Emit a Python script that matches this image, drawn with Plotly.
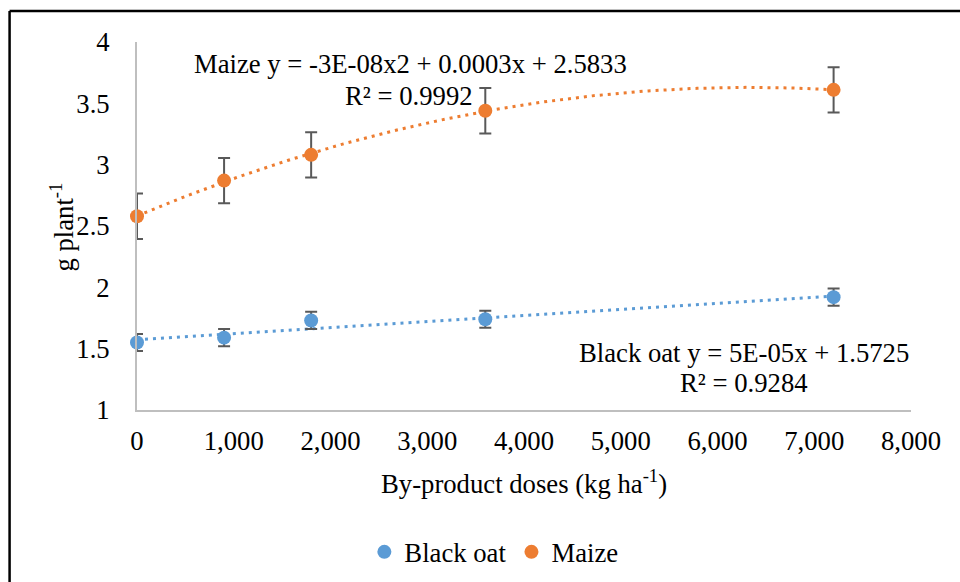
import numpy as np
import plotly.graph_objects as go

doses = [0, 900, 1800, 3600, 7200]
black_oat = [1.55, 1.59, 1.73, 1.74, 1.92]
black_oat_err = [0.07, 0.07, 0.07, 0.07, 0.07]
maize = [2.58, 2.87, 3.08, 3.44, 3.61]
maize_err = [0.185, 0.185, 0.185, 0.185, 0.185]
x_ticks = [0, 1000, 2000, 3000, 4000, 5000, 6000, 7000, 8000]
y_ticks = [1, 1.5, 2, 2.5, 3, 3.5, 4]

BLUE = "#5B9BD5"
ORANGE = "#ED7D31"
FONT = "Liberation Serif"
FS = 26.7

# Trendlines (Excel-style): linear for black oat, 2nd order polynomial for maize
xs = np.linspace(0, 7200, 200)
lin = np.polyfit(doses, black_oat, 1)
poly = np.polyfit(doses, maize, 2)

fig = go.Figure()
fig.add_trace(go.Scatter(x=xs, y=np.polyval(lin, xs), mode="lines",
                         line=dict(color=BLUE, width=3, dash="3px,5px"),
                         showlegend=False, hoverinfo="skip", cliponaxis=False))
fig.add_trace(go.Scatter(x=xs, y=np.polyval(poly, xs), mode="lines",
                         line=dict(color=ORANGE, width=3, dash="3px,5px"),
                         showlegend=False, hoverinfo="skip", cliponaxis=False))
fig.add_trace(go.Scatter(x=doses, y=black_oat, mode="markers", name="Black oat",
                         marker=dict(color=BLUE, size=14),
                         error_y=dict(type="data", array=black_oat_err, color="#595959",
                                      thickness=2, width=6),
                         cliponaxis=False))
fig.add_trace(go.Scatter(x=doses, y=maize, mode="markers", name="Maize",
                         marker=dict(color=ORANGE, size=14),
                         error_y=dict(type="data", array=maize_err, color="#595959",
                                      thickness=2, width=6),
                         cliponaxis=False))

W, H = 960, 582
L, T = 136.5, 42
PW, PH = 774.5, 368
R = W - L - PW
B = H - T - PH


def xp(px):
    return (px - L) / PW


def yp(py):
    return (T + PH - py) / PH


ann_font = dict(family=FONT, size=FS, color="black")
annotations = [
    dict(text="Maize y = -3E-08x2 + 0.0003x + 2.5833", x=xp(410), y=yp(64)),
    dict(text="R² = 0.9992", x=xp(409), y=yp(96)),
    dict(text="Black oat y = 5E-05x + 1.5725", x=xp(744), y=yp(353)),
    dict(text="R² = 0.9284", x=xp(744), y=yp(383)),
    dict(text="By-product doses (kg ha<sup>-1</sup>)", x=xp(524), y=yp(482)),
    dict(text="g plant<sup>-1</sup>", x=xp(61), y=yp(227), textangle=-90),
]
for a in annotations:
    a.update(xref="paper", yref="paper", showarrow=False, font=ann_font,
             xanchor="center", yanchor="middle")

fig.update_layout(
    width=W, height=H,
    margin=dict(l=L, r=R, t=T, b=B, autoexpand=False),
    paper_bgcolor="white", plot_bgcolor="white",
    font=dict(family=FONT, size=FS, color="black"),
    annotations=annotations,
    legend=dict(orientation="h", x=xp(364), y=yp(552), xanchor="left", yanchor="middle",
                font=dict(family=FONT, size=FS, color="black"),
                itemwidth=30, tracegroupgap=0),
    shapes=[
        dict(type="line", xref="paper", yref="paper", x0=xp(9), x1=xp(980), y0=yp(11), y1=yp(11),
             line=dict(color="black", width=2.5)),
        dict(type="line", xref="paper", yref="paper", x0=xp(9), x1=xp(9), y0=yp(11), y1=yp(600),
             line=dict(color="black", width=2.5)),
    ],
    xaxis=dict(range=[0, 8000], tickvals=x_ticks, tickformat=",d",
               showgrid=False, zeroline=False, showline=True, linecolor="#BFBFBF", linewidth=2,
               ticks="", tickfont=dict(family=FONT, size=FS), ticklabelstandoff=6),
    yaxis=dict(range=[1, 4], tickvals=y_ticks,
               showgrid=False, zeroline=False, showline=True, linecolor="#BFBFBF", linewidth=2,
               ticks="", tickfont=dict(family=FONT, size=FS), ticklabelstandoff=20),
    showlegend=True,
)

fig.write_html(
    "out.html",
    config={"displayModeBar": False},
    post_script="document.body.style.margin='0';document.body.style.overflow='hidden';",
)
